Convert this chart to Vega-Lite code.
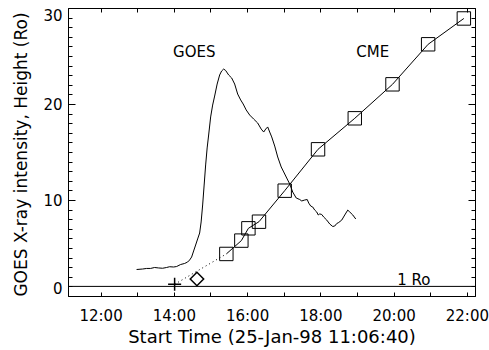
{
  "$schema": "https://vega.github.io/schema/vega-lite/v6.json",
  "width": 407,
  "height": 288,
  "autosize": {"type": "none"},
  "padding": {"left": 68, "top": 8, "right": 14, "bottom": 54},
  "background": "white",
  "config": {
    "view": {"stroke": "black", "strokeWidth": 1},
    "font": "DejaVu Sans",
    "axis": {"domain": false, "grid": false, "ticks": true, "tickOpacity": 1, "zindex": 1, "tickColor": "black", "labelColor": "black", "titleColor": "black", "labelFont": "DejaVu Sans", "titleFont": "DejaVu Sans", "labelFontSize": 15, "titleFontSize": 17, "titleFontWeight": "normal", "tickWidth": 1, "labelFlush": false, "labelOverlap": false, "labelBound": false}
  },
  "datasets": {
    "goes": [
      {"t": "1998-01-25T12:59:00", "v": 2.76},
      {"t": "1998-01-25T13:08:51", "v": 2.81},
      {"t": "1998-01-25T13:15:25", "v": 2.87},
      {"t": "1998-01-25T13:21:58", "v": 2.87},
      {"t": "1998-01-25T13:28:31", "v": 2.97},
      {"t": "1998-01-25T13:35:05", "v": 2.92},
      {"t": "1998-01-25T13:41:38", "v": 2.89},
      {"t": "1998-01-25T13:48:12", "v": 2.97},
      {"t": "1998-01-25T13:53:07", "v": 3.05},
      {"t": "1998-01-25T13:59:40", "v": 3.02},
      {"t": "1998-01-25T14:04:35", "v": 3.07},
      {"t": "1998-01-25T14:11:09", "v": 3.28},
      {"t": "1998-01-25T14:17:42", "v": 3.39},
      {"t": "1998-01-25T14:22:37", "v": 3.54},
      {"t": "1998-01-25T14:25:54", "v": 3.75},
      {"t": "1998-01-25T14:29:11", "v": 4.06},
      {"t": "1998-01-25T14:32:27", "v": 4.69},
      {"t": "1998-01-25T14:35:44", "v": 5.31},
      {"t": "1998-01-25T14:39:01", "v": 5.94},
      {"t": "1998-01-25T14:42:18", "v": 6.56},
      {"t": "1998-01-25T14:44:45", "v": 7.71},
      {"t": "1998-01-25T14:47:13", "v": 9.48},
      {"t": "1998-01-25T14:49:40", "v": 11.56},
      {"t": "1998-01-25T14:52:08", "v": 13.65},
      {"t": "1998-01-25T14:54:35", "v": 15.42},
      {"t": "1998-01-25T14:57:03", "v": 16.77},
      {"t": "1998-01-25T15:00:20", "v": 18.65},
      {"t": "1998-01-25T15:03:36", "v": 19.89},
      {"t": "1998-01-25T15:06:53", "v": 20.83},
      {"t": "1998-01-25T15:10:59", "v": 22.08},
      {"t": "1998-01-25T15:15:04", "v": 23.02},
      {"t": "1998-01-25T15:18:21", "v": 23.44},
      {"t": "1998-01-25T15:21:38", "v": 23.64},
      {"t": "1998-01-25T15:24:55", "v": 23.49},
      {"t": "1998-01-25T15:29:50", "v": 23.02},
      {"t": "1998-01-25T15:34:45", "v": 22.71},
      {"t": "1998-01-25T15:39:40", "v": 22.08},
      {"t": "1998-01-25T15:44:35", "v": 21.04},
      {"t": "1998-01-25T15:49:30", "v": 20.42},
      {"t": "1998-01-25T15:53:36", "v": 20.0},
      {"t": "1998-01-25T15:58:31", "v": 19.38},
      {"t": "1998-01-25T16:04:15", "v": 18.85},
      {"t": "1998-01-25T16:10:49", "v": 18.43},
      {"t": "1998-01-25T16:17:22", "v": 18.02},
      {"t": "1998-01-25T16:23:07", "v": 17.39},
      {"t": "1998-01-25T16:27:13", "v": 17.08},
      {"t": "1998-01-25T16:30:29", "v": 17.39},
      {"t": "1998-01-25T16:33:46", "v": 17.61},
      {"t": "1998-01-25T16:37:03", "v": 17.08},
      {"t": "1998-01-25T16:40:20", "v": 16.57},
      {"t": "1998-01-25T16:45:15", "v": 15.62},
      {"t": "1998-01-25T16:50:10", "v": 14.48},
      {"t": "1998-01-25T16:55:54", "v": 13.44},
      {"t": "1998-01-25T17:00:00", "v": 12.92},
      {"t": "1998-01-25T17:04:55", "v": 12.29},
      {"t": "1998-01-25T17:09:50", "v": 11.67},
      {"t": "1998-01-25T17:14:45", "v": 10.83},
      {"t": "1998-01-25T17:20:29", "v": 10.21},
      {"t": "1998-01-25T17:26:14", "v": 10.05},
      {"t": "1998-01-25T17:29:30", "v": 9.9},
      {"t": "1998-01-25T17:34:25", "v": 10.0},
      {"t": "1998-01-25T17:38:31", "v": 10.05},
      {"t": "1998-01-25T17:40:59", "v": 9.68},
      {"t": "1998-01-25T17:44:15", "v": 9.37},
      {"t": "1998-01-25T17:47:32", "v": 9.27},
      {"t": "1998-01-25T17:50:49", "v": 8.95},
      {"t": "1998-01-25T17:54:06", "v": 8.75},
      {"t": "1998-01-25T17:56:33", "v": 8.44},
      {"t": "1998-01-25T17:59:01", "v": 8.55},
      {"t": "1998-01-25T18:02:18", "v": 8.49},
      {"t": "1998-01-25T18:05:34", "v": 8.22},
      {"t": "1998-01-25T18:10:29", "v": 7.91},
      {"t": "1998-01-25T18:15:24", "v": 7.5},
      {"t": "1998-01-25T18:20:19", "v": 7.24},
      {"t": "1998-01-25T18:23:36", "v": 7.29},
      {"t": "1998-01-25T18:26:53", "v": 7.55},
      {"t": "1998-01-25T18:30:10", "v": 7.66},
      {"t": "1998-01-25T18:35:05", "v": 7.91},
      {"t": "1998-01-25T18:40:00", "v": 8.44},
      {"t": "1998-01-25T18:44:55", "v": 8.95},
      {"t": "1998-01-25T18:48:12", "v": 8.75},
      {"t": "1998-01-25T18:53:07", "v": 8.44},
      {"t": "1998-01-25T18:58:02", "v": 8.02}
    ],
    "cme": [
      {"t": "1998-01-25T15:26:02", "v": 4.38},
      {"t": "1998-01-25T15:50:38", "v": 5.77},
      {"t": "1998-01-25T16:02:10", "v": 7.05},
      {"t": "1998-01-25T16:19:30", "v": 7.74},
      {"t": "1998-01-25T17:01:37", "v": 10.97},
      {"t": "1998-01-25T17:56:13", "v": 15.28},
      {"t": "1998-01-25T18:56:24", "v": 18.51},
      {"t": "1998-01-25T19:58:12", "v": 22.05},
      {"t": "1998-01-25T20:56:35", "v": 26.22},
      {"t": "1998-01-25T21:55:05", "v": 28.91}
    ],
    "dotted": [
      {"t": "1998-01-25T14:01:19", "v": 1.22},
      {"t": "1998-01-25T15:26:02", "v": 4.38}
    ],
    "diamond": [
      {"t": "1998-01-25T14:37:52", "v": 1.77}
    ],
    "plus": [
      {"t": "1998-01-25T14:01:19", "v": 1.22}
    ],
    "names": [
      {"t": "1998-01-25T14:33:36", "v": 25.45, "txt": "GOES"},
      {"t": "1998-01-25T19:25:54", "v": 25.45, "txt": "CME"}
    ],
    "ro": [
      {"t": "1998-01-25T20:33:07", "v": 1, "txt": "1 Ro"}
    ]
  },
  "resolve": {"axis": {"x": "independent", "y": "independent"}},
  "layer": [
    {
      "data": {"name": "goes"},
      "mark": {"type": "line", "color": "black", "strokeWidth": 1},
      "encoding": {
        "x": {"field": "t", "type": "temporal",
          "scale": {"domain": [{"year": 1998, "month": 1, "date": 25, "hours": 11, "minutes": 6, "seconds": 40}, {"year": 1998, "month": 1, "date": 25, "hours": 22, "minutes": 13, "seconds": 20}], "nice": false},
          "axis": {"orient": "bottom", "values": [
            {"year": 1998, "month": 1, "date": 25, "hours": 12}, {"year": 1998, "month": 1, "date": 25, "hours": 13},
            {"year": 1998, "month": 1, "date": 25, "hours": 14}, {"year": 1998, "month": 1, "date": 25, "hours": 15},
            {"year": 1998, "month": 1, "date": 25, "hours": 16}, {"year": 1998, "month": 1, "date": 25, "hours": 17},
            {"year": 1998, "month": 1, "date": 25, "hours": 18}, {"year": 1998, "month": 1, "date": 25, "hours": 19},
            {"year": 1998, "month": 1, "date": 25, "hours": 20}, {"year": 1998, "month": 1, "date": 25, "hours": 21},
            {"year": 1998, "month": 1, "date": 25, "hours": 22}],
            "format": "%H:%M", "labelExpr": "hours(datum.value) % 2 == 0 ? datum.label : ''",
            "offset": -4, "tickSize": 4, "labelPadding": 12,
            "title": "Start Time (25-Jan-98 11:06:40)", "titleFontSize": 18, "titleY": 45, "titleBaseline": "middle"}
        },
        "y": {"field": "v", "type": "quantitative",
          "scale": {"domain": [0, 30], "nice": false, "zero": false},
          "axis": {"orient": "left", "values": [0, 10, 20, 30], "offset": -7, "tickSize": 7, "labelPadding": 6, "labelFlush": true,
            "title": "GOES X-ray intensity, Height (Ro)", "titleX": -54, "titleY": 146, "titleBaseline": "middle"}
        }
      }
    },
    {
      "data": {"name": "cme"},
      "mark": {"type": "line", "color": "black", "strokeWidth": 1},
      "encoding": {
        "x": {"field": "t", "type": "temporal",
          "scale": {"domain": [{"year": 1998, "month": 1, "date": 25, "hours": 11, "minutes": 6, "seconds": 40}, {"year": 1998, "month": 1, "date": 25, "hours": 22, "minutes": 13, "seconds": 20}], "nice": false},
          "axis": {"orient": "top", "values": [
            {"year": 1998, "month": 1, "date": 25, "hours": 12}, {"year": 1998, "month": 1, "date": 25, "hours": 13},
            {"year": 1998, "month": 1, "date": 25, "hours": 14}, {"year": 1998, "month": 1, "date": 25, "hours": 15},
            {"year": 1998, "month": 1, "date": 25, "hours": 16}, {"year": 1998, "month": 1, "date": 25, "hours": 17},
            {"year": 1998, "month": 1, "date": 25, "hours": 18}, {"year": 1998, "month": 1, "date": 25, "hours": 19},
            {"year": 1998, "month": 1, "date": 25, "hours": 20}, {"year": 1998, "month": 1, "date": 25, "hours": 21},
            {"year": 1998, "month": 1, "date": 25, "hours": 22}],
            "offset": -4, "tickSize": 4, "labels": false, "title": null}
        },
        "y": {"field": "v", "type": "quantitative",
          "scale": {"domain": [0, 30], "nice": false, "zero": false},
          "axis": {"orient": "right", "values": [0, 10, 20, 30], "offset": -7, "tickSize": 7, "labels": false, "title": null}
        }
      }
    },
    {
      "data": {"name": "dotted"},
      "mark": {"type": "line", "color": "black", "strokeWidth": 1, "strokeDash": [1, 3]},
      "encoding": {
        "x": {"field": "t", "type": "temporal", "axis": null},
        "y": {"field": "v", "type": "quantitative",
          "scale": {"domain": [0, 30], "nice": false, "zero": false},
          "axis": {"orient": "left", "values": [0, 1, 2, 3, 4, 5, 6, 7, 8, 9, 10, 11, 12, 13, 14, 15, 16, 17, 18, 19, 20, 21, 22, 23, 24, 25, 26, 27, 28, 29, 30], "offset": -4, "tickSize": 4, "labels": false, "title": null}
        }
      }
    },
    {
      "data": {"name": "cme"},
      "mark": {"type": "point", "shape": "square", "filled": false, "color": "black", "strokeWidth": 1, "size": 180, "opacity": 1},
      "encoding": {
        "x": {"field": "t", "type": "temporal", "axis": null},
        "y": {"field": "v", "type": "quantitative",
          "scale": {"domain": [0, 30], "nice": false, "zero": false},
          "axis": {"orient": "right", "values": [0, 1, 2, 3, 4, 5, 6, 7, 8, 9, 10, 11, 12, 13, 14, 15, 16, 17, 18, 19, 20, 21, 22, 23, 24, 25, 26, 27, 28, 29, 30], "offset": -4, "tickSize": 4, "labels": false, "title": null}
        }
      }
    },
    {
      "data": {"name": "diamond"},
      "mark": {"type": "point", "shape": "diamond", "filled": false, "color": "black", "strokeWidth": 1.5, "size": 180, "opacity": 1},
      "encoding": {
        "x": {"field": "t", "type": "temporal", "axis": null},
        "y": {"field": "v", "type": "quantitative", "axis": null}
      }
    },
    {
      "data": {"name": "plus"},
      "mark": {"type": "point", "shape": "M-1,0H1M0,-1V1", "filled": false, "color": "black", "strokeWidth": 1.5, "size": 170, "opacity": 1},
      "encoding": {
        "x": {"field": "t", "type": "temporal", "axis": null},
        "y": {"field": "v", "type": "quantitative", "axis": null}
      }
    },
    {
      "data": {"name": "ro"},
      "mark": {"type": "rule", "color": "black", "strokeWidth": 1},
      "encoding": {
        "y": {"datum": 1, "type": "quantitative", "axis": null}
      }
    },
    {
      "data": {"name": "names"},
      "mark": {"type": "text", "font": "DejaVu Sans", "fontSize": 15, "color": "black", "baseline": "middle", "align": "center"},
      "encoding": {
        "x": {"field": "t", "type": "temporal", "axis": null},
        "y": {"field": "v", "type": "quantitative", "axis": null},
        "text": {"field": "txt"}
      }
    },
    {
      "data": {"name": "ro"},
      "mark": {"type": "text", "font": "DejaVu Sans", "fontSize": 15, "color": "black", "baseline": "alphabetic", "align": "center", "dy": -1},
      "encoding": {
        "x": {"field": "t", "type": "temporal", "axis": null},
        "y": {"field": "v", "type": "quantitative", "axis": null},
        "text": {"field": "txt"}
      }
    }
  ]
}
